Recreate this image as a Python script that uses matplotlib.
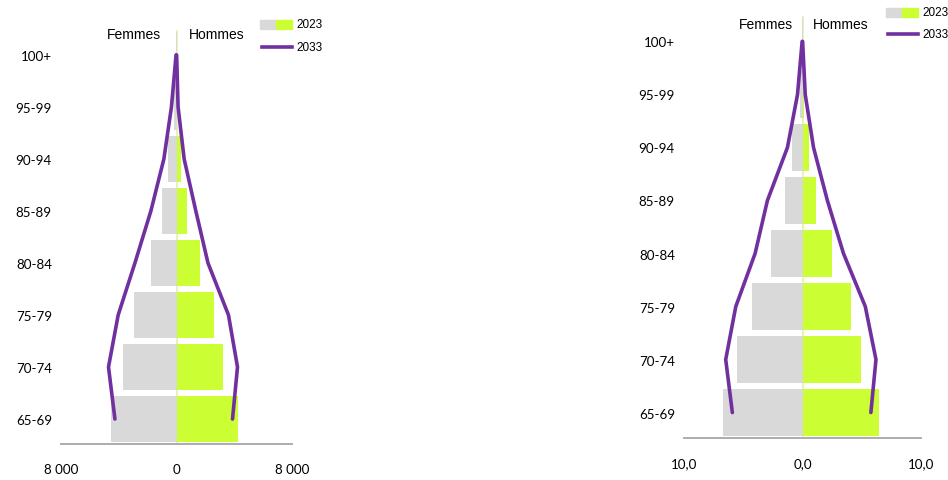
import numpy as np
import matplotlib
matplotlib.use("Agg")
import matplotlib.pyplot as plt
from matplotlib.patches import Rectangle
from matplotlib.lines import Line2D

# age groups, bottom to top
ages = ['65-69', '70-74', '75-79', '80-84', '85-89', '90-94', '95-99', '100+']

# left chart: counts
femmes_2023_n = [4570, 3720, 2930, 1800, 1015, 555, 185, 20]
hommes_2023_n = [4245, 3255, 2630, 1595, 715, 325, 50, 5]
femmes_2033_n = [4265, 4710, 4040, 2880, 1775, 875, 350, 30]
hommes_2033_n = [3880, 4225, 3600, 2180, 1340, 530, 110, 10]

# right chart: percentages
femmes_2023_p = [6.70, 5.49, 4.28, 2.65, 1.49, 0.85, 0.20, 0.02]
hommes_2023_p = [6.48, 4.96, 4.08, 2.45, 1.13, 0.51, 0.15, 0.01]
femmes_2033_p = [5.92, 6.48, 5.63, 4.00, 2.96, 1.27, 0.42, 0.03]
hommes_2033_p = [5.77, 6.20, 5.30, 3.46, 2.10, 0.93, 0.23, 0.01]

GREY = '#d9d9d9'
GREEN = '#ccff33'
PURPLE = '#7030a0'

W, H = 948, 481
fig = plt.figure(figsize=(W / 100, H / 100), dpi=100)


def px_axes(x0, y0, x1, y1):
    return fig.add_axes([x0 / W, 1 - y1 / H, (x1 - x0) / W, (y1 - y0) / H])


def draw_pyramid(ax, fem, hom, fem2, hom2, lim, ticklabels, gaps):
    y = np.arange(len(ages))
    ax.barh(y, -np.array(fem), height=0.9, color=GREY, zorder=2)
    ax.barh(y, hom, height=0.9, color=GREEN, zorder=2)
    ax.axvline(0, color='#e2f0a8', lw=1.2, zorder=1)
    ax.plot(-np.array(fem2), y, color=PURPLE, lw=2.6, solid_capstyle='round',
            solid_joinstyle='round', zorder=3)
    ax.plot(hom2, y, color=PURPLE, lw=2.6, solid_capstyle='round',
            solid_joinstyle='round', zorder=3)
    ax.set_xlim(-lim, lim)
    ax.set_ylim(-0.48, 7.48)
    ax.set_xticks([-lim, 0, lim])
    ax.set_xticklabels(ticklabels, fontsize=9.6, family='Lato')
    ax.set_yticks(y)
    ax.set_yticklabels(ages, fontsize=9.6, family='Lato')
    ax.tick_params(axis='both', length=0)
    ax.tick_params(axis='y', pad=6.5)
    ax.tick_params(axis='x', pad=13.5)
    for s in ['left', 'right', 'top']:
        ax.spines[s].set_visible(False)
    ax.spines['bottom'].set_color('#a6a6a6')
    ax.spines['bottom'].set_linewidth(1.3)
    ax.annotate('Femmes', xy=(0, gaps[2]), xytext=(-gaps[0], 0), textcoords='offset pixels',
                ha='right', va='center', fontsize=10, family='Liberation Sans')
    ax.annotate('Hommes', xy=(0, gaps[2]), xytext=(gaps[1], 0), textcoords='offset pixels',
                ha='left', va='center', fontsize=10, family='Liberation Sans')


def draw_legend(x, y_top, y_line):
    fig.add_artist(Rectangle((x / W, 1 - (y_top + 9) / H), 16 / W, 9 / H,
                             transform=fig.transFigure, color=GREY))
    fig.add_artist(Rectangle(((x + 16) / W, 1 - (y_top + 9) / H), 16 / W, 9 / H,
                             transform=fig.transFigure, color=GREEN))
    fig.text((x + 36) / W, 1 - (y_top + 4.5) / H, '2023', fontsize=8.5,
             family='Liberation Sans', va='center')
    fig.add_artist(Line2D([(x + 2) / W, (x + 32) / W], [1 - y_line / H] * 2,
                          transform=fig.transFigure, color=PURPLE, lw=2.6))
    fig.text((x + 36) / W, 1 - y_line / H, '2033', fontsize=8.5,
             family='Liberation Sans', va='center')


ax1 = px_axes(61, 31, 292, 445)
draw_pyramid(ax1, femmes_2023_n, hommes_2023_n, femmes_2033_n, hommes_2033_n,
             8000, ['8 000', '0', '8 000'], (15, 12, 7.4))

ax2 = px_axes(684, 17, 921, 439)
draw_pyramid(ax2, femmes_2023_p, hommes_2023_p, femmes_2033_p, hommes_2033_p,
             10, ['10,0', '0,0', '10,0'], (9, 10, 7.33))

draw_legend(260, 21, 48)
draw_legend(886, 9, 35)

fig.savefig('out.png', dpi=100)
